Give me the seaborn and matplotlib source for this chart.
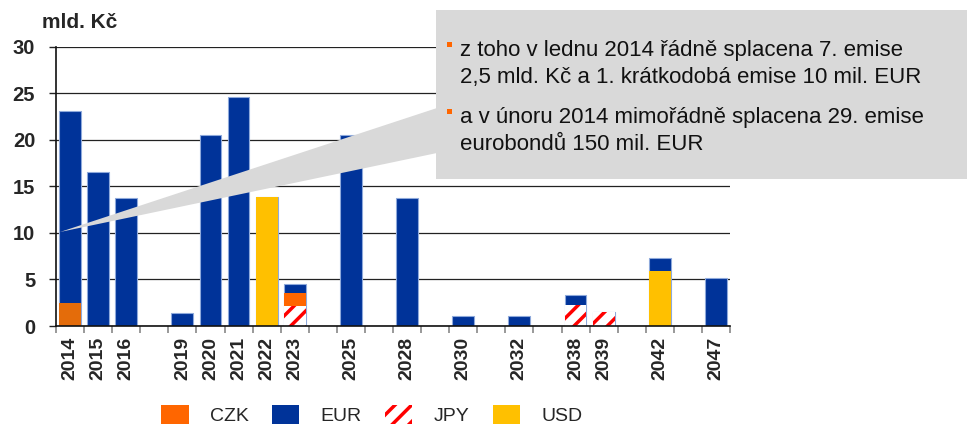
import numpy as np
import pandas as pd
import matplotlib
matplotlib.use("Agg")
import matplotlib.pyplot as plt
from matplotlib.patches import Patch, Rectangle, Polygon
import seaborn as sns

# Splatnost dluhu podle měn (mld. Kč)
years = [2014, 2015, 2016, 2019, 2020, 2021, 2022, 2023, 2025, 2028, 2030, 2032, 2038, 2039, 2042, 2047]
eur = [20.6, 16.5, 13.7, 1.4, 20.5, 24.6, 0.0, 1.0, 20.5, 13.7, 1.1, 1.1, 1.0, 0.0, 1.4, 5.2]
czk = [2.5, 0, 0, 0, 0, 0, 0, 1.4, 0, 0, 0, 0, 0, 0, 0, 0]
jpy = [0, 0, 0, 0, 0, 0, 0, 2.1, 0, 0, 0, 0, 2.3, 1.5, 0, 0]
usd = [0, 0, 0, 0, 0, 0, 13.9, 0, 0, 0, 0, 0, 0, 0, 5.9, 0]

yticks = [0, 5, 10, 15, 20, 25, 30]
legend_labels = ["CZK", "EUR", "JPY", "USD"]
callout_lines = [
    "z toho v lednu 2014 řádně splacena 7. emise",
    "2,5 mld. Kč a 1. krátkodobá emise 10 mil. EUR",
    "a v únoru 2014 mimořádně splacena 29. emise",
    "eurobondů 150 mil. EUR",
]

C_EUR = "#003399"
C_CZK = "#FF6600"
C_CZK_2014 = "#E46C0A"
C_USD = "#FFC000"
C_JPY = "#FF0000"
C_BOX = "#D9D9D9"

W, H = 967, 424


def fx(x):
    return x / W


def fy(y):
    return 1 - y / H


# poradi sloupcu: mezi neprimo navazujicimi roky je prazdne misto
order, tick_labels = [], []
for i, yr in enumerate(years):
    if i > 0 and yr - years[i - 1] > 1:
        order.append(f"gap{i}")
        tick_labels.append("")
    order.append(str(yr))
    tick_labels.append(str(yr))

df = pd.DataFrame({"slot": [str(y) for y in years], "EUR": eur, "CZK": czk, "JPY": jpy, "USD": usd})
# kumulativni vrstvy (kresli se od nejvyssi po nejnizsi)
df["lvl_jpy"] = df["JPY"]
df["lvl_czk"] = df["JPY"] + df["CZK"]
df["lvl_usd"] = df["lvl_czk"] + df["USD"]
df["lvl_eur"] = df["lvl_usd"] + df["EUR"]

sns.set_theme(style="white")
plt.rcParams["font.family"] = ["Liberation Sans", "DejaVu Sans"]
plt.rcParams["hatch.linewidth"] = 2.5

fig = plt.figure(figsize=(W / 100, H / 100), dpi=100)
ax = fig.add_axes([fx(56), fy(326), fx(730 - 56), (326 - 46.7) / H])

bw = 0.78
common = dict(x="slot", order=order, width=bw, ax=ax, errorbar=None, saturation=1)

sns.barplot(data=df[df["lvl_eur"] > 0], y="lvl_eur", color=C_EUR,
            edgecolor="#8EA9DB", linewidth=0.8, **common)
sns.barplot(data=df[df["lvl_usd"] > 0], y="lvl_usd", color=C_USD, linewidth=0, **common)
sns.barplot(data=df[df["lvl_czk"] > 0], y="lvl_czk", color=C_CZK, linewidth=0, **common)
# rok 2014 ma v originale tmavsi oranzovou
ax.containers[-1].patches[0].set_facecolor(C_CZK_2014)
sns.barplot(data=df[df["lvl_jpy"] > 0], y="lvl_jpy", color="white", edgecolor=C_JPY,
            hatch="//", linewidth=0, **common)

# osy
ax.set_xlim(-0.5, len(order) - 0.5)
ax.set_ylim(0, 30)
ax.set_yticks(yticks)
ax.set_yticklabels([str(t) for t in yticks], fontsize=14.5, fontweight="bold")
ax.set_xticks(range(len(order)))
ax.set_xticklabels(tick_labels, rotation=90, fontsize=14, fontweight="bold")
ax.set_xticks(np.arange(-0.5, len(order)), minor=True)
ax.tick_params(axis="x", which="major", length=0, pad=8)
ax.tick_params(axis="x", which="minor", length=5, width=1.2, color="#888888", bottom=True)
ax.tick_params(axis="y", length=5, width=1, color="#222222", left=True, pad=10)
ax.set_xlabel("")
ax.set_ylabel("")
ax.yaxis.grid(True, color="#222222", linewidth=0.9)
ax.set_axisbelow(True)
for side in ["top", "right"]:
    ax.spines[side].set_visible(False)
for side in ["left", "bottom"]:
    ax.spines[side].set_color("#111111")
    ax.spines[side].set_linewidth(1.2)

fig.text(fx(42), fy(28), "mld. Kč", fontsize=15, fontweight="bold", va="baseline")

# bublina s komentarem
fig.add_artist(Polygon([(fx(60), fy(232)), (fx(437), fy(108)), (fx(437), fy(153))],
                       closed=True, transform=fig.transFigure, facecolor=C_BOX,
                       edgecolor="none", zorder=5))
fig.add_artist(Rectangle((fx(436), fy(179)), fx(W - 436), (179 - 10) / H,
                         transform=fig.transFigure, facecolor=C_BOX,
                         edgecolor="none", zorder=5))
baselines = [56, 83, 123, 150]
for line, base in zip(callout_lines, baselines):
    fig.text(fx(460), fy(base), line, fontsize=16, va="baseline", color="#111111", zorder=6)
for top in [41.5, 108.5]:
    fig.add_artist(Rectangle((fx(446.5), fy(top + 5.5)), fx(5), 5.5 / H,
                             transform=fig.transFigure, facecolor=C_CZK,
                             edgecolor="none", zorder=6))

# legenda
handles = [
    Patch(facecolor=C_CZK, edgecolor="none"),
    Patch(facecolor=C_EUR, edgecolor="none"),
    Patch(facecolor="white", edgecolor=C_JPY, hatch="//", linewidth=0),
    Patch(facecolor=C_USD, edgecolor="none"),
]
fig.legend(handles, legend_labels, loc="center", bbox_to_anchor=(fx(372), fy(415)),
           ncol=4, frameon=False, fontsize=14, handlelength=1.4, handleheight=1.08,
           handletextpad=1.1, columnspacing=1.2)

fig.savefig("out.png", dpi=100)
